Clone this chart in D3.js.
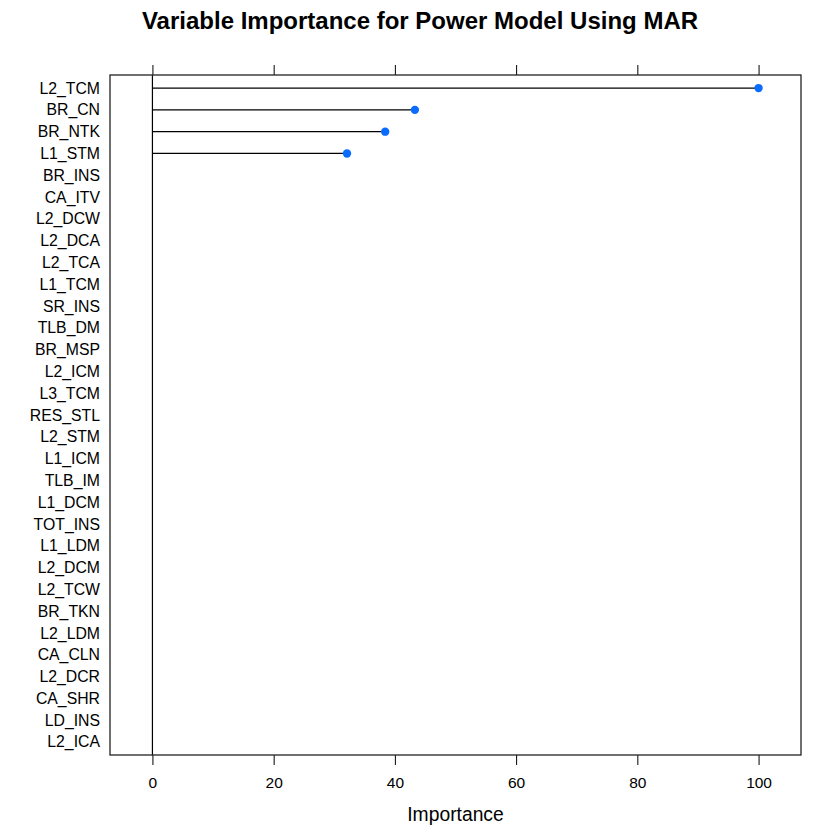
<!DOCTYPE html>
<html>
<head>
<meta charset="utf-8">
<script src="https://cdn.jsdelivr.net/npm/d3@7"></script>
<style>
  html, body { margin: 0; padding: 0; background: #fff; }
  svg { display: block; font-family: 'Liberation Sans', Arial, Helvetica, sans-serif; }
</style>
</head>
<body>
<div id="chart"></div>
<script>
const variables = [
    'L2_TCM', 'BR_CN', 'BR_NTK', 'L1_STM', 'BR_INS', 'CA_ITV', 'L2_DCW', 'L2_DCA',
    'L2_TCA', 'L1_TCM', 'SR_INS', 'TLB_DM', 'BR_MSP', 'L2_ICM', 'L3_TCM', 'RES_STL',
    'L2_STM', 'L1_ICM', 'TLB_IM', 'L1_DCM', 'TOT_INS', 'L1_LDM', 'L2_DCM', 'L2_TCW',
    'BR_TKN', 'L2_LDM', 'CA_CLN', 'L2_DCR', 'CA_SHR', 'LD_INS', 'L2_ICA'
];
const importance = [
    100, 43.3, 38.4, 32.1, 0, 0, 0, 0,
    0, 0, 0, 0, 0, 0, 0, 0,
    0, 0, 0, 0, 0, 0, 0, 0,
    0, 0, 0, 0, 0, 0, 0
];
const xTicks = [0, 20, 40, 60, 80, 100];

const data = variables.map((name, i) => ({ name, value: importance[i] }));

const width = 840;
const height = 840;
const marginTop = 75;
const marginRight = 39;
const marginBottom = 85;
const marginLeft = 110;

// lattice pads the range by 7% on each side
const x = d3.scaleLinear()
    .domain([-7, 107])
    .range([marginLeft, width - marginRight]);

const y = d3.scalePoint()
    .domain(variables)
    .range([marginTop, height - marginBottom])
    .padding(0.6);

const svg = d3.create('svg')
    .attr('width', width)
    .attr('height', height)
    .attr('viewBox', [0, 0, width, height]);

// title
svg.append('text')
    .attr('x', width / 2)
    .attr('y', 29)
    .attr('text-anchor', 'middle')
    .attr('font-weight', 'bold')
    .attr('font-size', 24)
    .attr('fill', '#000')
    .text('Variable Importance for Power Model Using MAR');

// reference line at zero
svg.append('line')
    .attr('x1', x(0))
    .attr('x2', x(0))
    .attr('y1', marginTop)
    .attr('y2', height - marginBottom)
    .attr('stroke', '#000')
    .attr('stroke-width', 1.2);

// needles
svg.append('g')
    .attr('stroke', '#000')
    .attr('stroke-width', 1.2)
    .selectAll()
    .data(data.filter(d => d.value > 0))
    .join('line')
    .attr('x1', x(0))
    .attr('x2', d => x(d.value))
    .attr('y1', d => y(d.name))
    .attr('y2', d => y(d.name));

// dots
svg.append('g')
    .attr('fill', '#0a6cff')
    .selectAll()
    .data(data.filter(d => d.value > 0))
    .join('circle')
    .attr('cx', d => x(d.value))
    .attr('cy', d => y(d.name))
    .attr('r', 4.2);

// bottom axis
svg.append('g')
    .attr('transform', `translate(0,${height - marginBottom})`)
    .call(d3.axisBottom(x).tickValues(xTicks).tickSize(10).tickPadding(12))
    .call(g => g.select('.domain').remove())
    .call(g => g.selectAll('.tick line').attr('stroke', '#000'))
    .call(g => g.selectAll('.tick text')
        .attr('font-size', 15.5)
        .attr('font-family', null)
        .attr('fill', '#000'));

// top axis: ticks only
svg.append('g')
    .attr('transform', `translate(0,${marginTop})`)
    .call(d3.axisTop(x).tickValues(xTicks).tickSize(10).tickFormat(''))
    .call(g => g.select('.domain').remove())
    .call(g => g.selectAll('.tick line').attr('stroke', '#000'));

// left axis labels
svg.append('g')
    .attr('transform', `translate(${marginLeft},0)`)
    .call(d3.axisLeft(y).tickSize(0).tickPadding(10))
    .call(g => g.select('.domain').remove())
    .call(g => g.selectAll('.tick text')
        .attr('font-size', 15.8)
        .attr('font-family', null)
        .attr('fill', '#000'));

// panel frame
svg.append('rect')
    .attr('x', marginLeft)
    .attr('y', marginTop)
    .attr('width', width - marginLeft - marginRight)
    .attr('height', height - marginTop - marginBottom)
    .attr('fill', 'none')
    .attr('stroke', '#222')
    .attr('stroke-width', 1.3);

// x-axis title
svg.append('text')
    .attr('x', (marginLeft + width - marginRight) / 2)
    .attr('y', 821)
    .attr('text-anchor', 'middle')
    .attr('font-size', 19.3)
    .attr('fill', '#000')
    .text('Importance');

document.getElementById('chart').append(svg.node());
</script>
</body>
</html>
